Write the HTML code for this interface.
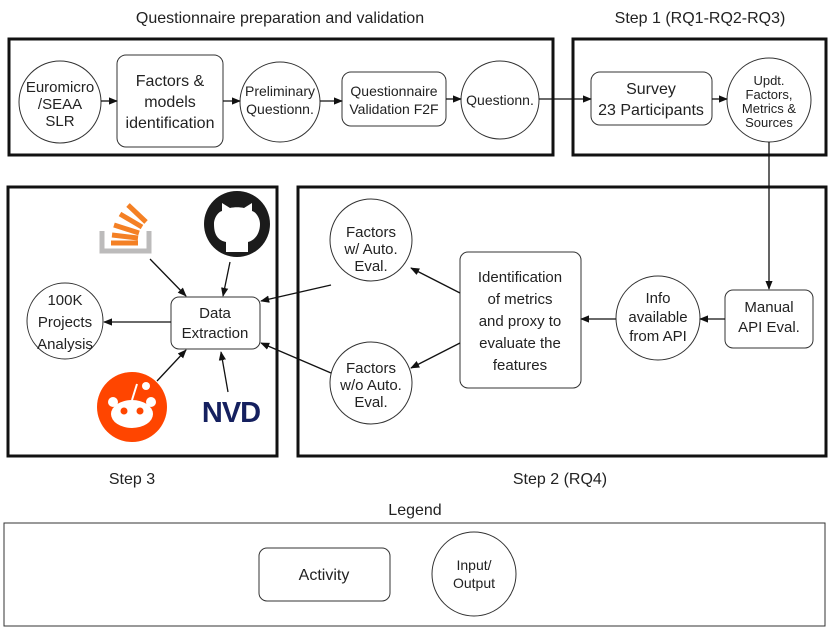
<!DOCTYPE html>
<html><head><meta charset="utf-8"><style>
html,body{margin:0;padding:0;background:#fff;}
svg text{font-family:"Liberation Sans",sans-serif;fill:#222;}
</style></head><body>
<svg width="831" height="632" viewBox="0 0 831 632" xmlns="http://www.w3.org/2000/svg">
<defs><marker id="a" viewBox="0 0 10 10" refX="9" refY="5" markerWidth="7" markerHeight="7" orient="auto"><path d="M0,1 L10,5 L0,9 z" fill="#111"/></marker></defs>
<g font-size="16" text-anchor="middle">
<text x="280" y="23">Questionnaire preparation and validation</text>
<text x="700" y="23">Step 1 (RQ1-RQ2-RQ3)</text>
<text x="132" y="484">Step 3</text>
<text x="560" y="484">Step 2 (RQ4)</text>
<text x="415" y="515">Legend</text>
</g>
<g fill="none" stroke="#111" stroke-width="3">
<rect x="9" y="39" width="544" height="116"/>
<rect x="573" y="39" width="253" height="116"/>
<rect x="8" y="187" width="269" height="269"/>
<rect x="298" y="187" width="528" height="269"/>
</g>
<rect x="4" y="523" width="821" height="103" fill="none" stroke="#333" stroke-width="1"/>
<g fill="#fff" stroke="#333" stroke-width="1">
<circle cx="60" cy="102" r="41"/>
<rect x="117" y="55" width="106" height="92" rx="9"/>
<circle cx="280" cy="102" r="40"/>
<rect x="342" y="72" width="104" height="54" rx="9"/>
<circle cx="500" cy="100" r="39"/>
<rect x="591" y="72" width="121" height="53" rx="9"/>
<circle cx="769" cy="100" r="42"/>
<rect x="725" y="290" width="88" height="58" rx="8"/>
<circle cx="658" cy="318" r="42"/>
<rect x="460" y="252" width="121" height="136" rx="8"/>
<circle cx="371" cy="240" r="41"/>
<circle cx="371" cy="383" r="41"/>
<rect x="171" y="297" width="89" height="52" rx="8"/>
<circle cx="65" cy="321" r="38"/>
<rect x="259" y="548" width="131" height="53" rx="8"/>
<circle cx="474" cy="574" r="42"/>
</g>
<g stroke="#111" stroke-width="1.3" fill="none" marker-end="url(#a)">
<line x1="101" y1="101" x2="117" y2="101"/>
<line x1="223" y1="101" x2="240" y2="101"/>
<line x1="320" y1="101" x2="342" y2="101"/>
<line x1="446" y1="99" x2="461" y2="99"/>
<line x1="539" y1="99" x2="591" y2="99"/>
<line x1="712" y1="99" x2="727" y2="99"/>
<line x1="769" y1="142" x2="769" y2="289"/>
<line x1="725" y1="319" x2="700" y2="319"/>
<line x1="616" y1="319" x2="581" y2="319"/>
<line x1="460" y1="293" x2="411" y2="268"/>
<line x1="460" y1="343" x2="411" y2="368"/>
<line x1="331" y1="285" x2="261" y2="301"/>
<line x1="331" y1="373" x2="261" y2="343"/>
<line x1="171" y1="322" x2="104" y2="322"/>
<line x1="150" y1="259" x2="186" y2="296"/>
<line x1="230" y1="262" x2="223" y2="296"/>
<line x1="157" y1="381" x2="186" y2="350"/>
<line x1="228" y1="392" x2="221" y2="352"/>
</g>
<g font-size="15" text-anchor="middle">
<text x="60" y="92">Euromicro</text><text x="60" y="109">/SEAA</text><text x="60" y="126">SLR</text>
<text x="170" y="86" font-size="16">Factors &amp;</text><text x="170" y="107" font-size="16">models</text><text x="170" y="128" font-size="16">identification</text>
<text x="280" y="96" font-size="14">Preliminary</text><text x="280" y="114" font-size="14">Questionn.</text>
<text x="394" y="96" font-size="14">Questionnaire</text><text x="394" y="114" font-size="14">Validation F2F</text>
<text x="500" y="105" font-size="14">Questionn.</text>
<text x="651" y="94" font-size="16">Survey</text><text x="651" y="115" font-size="16">23 Participants</text>
<text x="769" y="85" font-size="13">Updt.</text><text x="769" y="99" font-size="13">Factors,</text><text x="769" y="113" font-size="13">Metrics &amp;</text><text x="769" y="127" font-size="13">Sources</text>
<text x="769" y="312">Manual</text><text x="769" y="332">API Eval.</text>
<text x="658" y="303">Info</text><text x="658" y="322">available</text><text x="658" y="341">from API</text>
<text x="520" y="282">Identification</text><text x="520" y="304">of metrics</text><text x="520" y="326">and proxy to</text><text x="520" y="348">evaluate the</text><text x="520" y="370">features</text>
<text x="371" y="237">Factors</text><text x="371" y="254">w/ Auto.</text><text x="371" y="271">Eval.</text>
<text x="371" y="373">Factors</text><text x="371" y="390">w/o Auto.</text><text x="371" y="407">Eval.</text>
<text x="215" y="318">Data</text><text x="215" y="338">Extraction</text>
<text x="65" y="305">100K</text><text x="65" y="327">Projects</text><text x="65" y="349">Analysis</text>
<text x="324" y="580" font-size="16">Activity</text>
<text x="474" y="570" font-size="14">Input/</text><text x="474" y="588" font-size="14">Output</text>
</g>
<g>
<path d="M102,231 V251 H149 V231" fill="none" stroke="#bcbbbb" stroke-width="5"/>
<g stroke="#f48024" stroke-width="5">
<line x1="111" y1="243" x2="138" y2="243"/>
<line x1="112" y1="235" x2="138" y2="238"/>
<line x1="114" y1="225" x2="139" y2="233"/>
<line x1="120" y1="214" x2="142" y2="227"/>
<line x1="128" y1="205" x2="146" y2="222"/>
</g>
</g>
<circle cx="237" cy="224" r="33" fill="#1b1b1b"/>
<path d="M226,252 V242 C216,240 214,232 214,224 C214,218 218,212 222,211 L222,203 L230,208 C234,207 240,207 244,208 L252,203 L252,211 C256,212 260,218 260,224 C260,232 256,240 248,242 V252 Z" fill="#fff"/>
<circle cx="132" cy="407" r="35" fill="#ff4500"/>
<ellipse cx="132" cy="414" rx="21" ry="14" fill="#fff"/>
<circle cx="113" cy="402" r="5" fill="#fff"/><circle cx="151" cy="402" r="5" fill="#fff"/>
<circle cx="146" cy="386" r="4" fill="#fff"/>
<line x1="132" y1="400" x2="137" y2="384" stroke="#fff" stroke-width="2"/>
<circle cx="124" cy="411" r="3.5" fill="#ff4500"/><circle cx="140" cy="411" r="3.5" fill="#ff4500"/>
<text x="231" y="422" text-anchor="middle" font-size="29" font-weight="bold" style="fill:#15205f;letter-spacing:-1px">NVD</text>
</svg>
</body></html>
